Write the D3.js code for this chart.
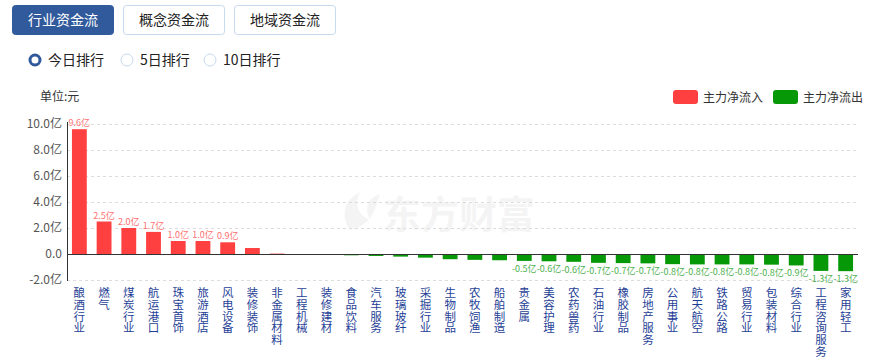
<!DOCTYPE html>
<html>
<head>
<meta charset="utf-8">
<script src="https://cdn.jsdelivr.net/npm/d3@7"></script>
<style>
  html, body { margin: 0; padding: 0; background: #fff; }
  body { font-family: "Microsoft YaHei", "Noto Sans CJK SC", sans-serif; }
</style>
</head>
<body>
<svg id="chart" width="874" height="362"></svg>
<script>
// ── 数据 ──────────────────────────────────────────
const categories = [
  "酿酒行业", "燃气", "煤炭行业", "航运港口", "珠宝首饰", "旅游酒店", "风电设备", "装修装饰",
  "非金属材料", "工程机械", "装修建材", "食品饮料", "汽车服务", "玻璃玻纤", "采掘行业", "生物制品",
  "农牧饲渔", "船舶制造", "贵金属", "美容护理", "农药兽药", "石油行业", "橡胶制品", "房地产服务",
  "公用事业", "航天航空", "铁路公路", "贸易行业", "包装材料", "综合行业", "工程咨询服务", "家用轻工"
];
// 主力净流入（亿元）
const values = [
  9.6, 2.5, 2.0, 1.7, 1.0, 1.0, 0.9, 0.46,
  0.03, -0.03, -0.05, -0.1, -0.15, -0.2, -0.28, -0.4,
  -0.45, -0.48, -0.53, -0.56, -0.6, -0.68, -0.7, -0.72,
  -0.78, -0.8, -0.8, -0.8, -0.82, -0.88, -1.3, -1.32
];
const yTicks = [-2, 0, 2, 4, 6, 8, 10];
const tabs   = ["行业资金流", "概念资金流", "地域资金流"];
const radios = ["今日排行", "5日排行", "10日排行"];
const legendItems = ["主力净流入", "主力净流出"];

const RED   = "#ff4040";
const GREEN = "#069806";

const svg = d3.select("#chart");

// ── 顶部 Tab 按钮 ─────────────────────────────────
const tabX = [12, 123, 234], tabW = 101;
tabs.forEach((t, i) => {
  const active = i === 0;
  svg.append("rect")
    .attr("x", tabX[i] + 0.5).attr("y", 5.5)
    .attr("width", tabW).attr("height", 29).attr("rx", 3)
    .attr("fill", active ? "#305a9b" : "#fff")
    .attr("stroke", active ? "#305a9b" : "#c6d9ee");
  svg.append("text")
    .attr("x", tabX[i] + tabW / 2 + 0.5).attr("y", 25)
    .attr("text-anchor", "middle")
    .attr("font-size", 14)
    .attr("fill", active ? "#fff" : "#222")
    .text(t);
});

// ── 单选 ──────────────────────────────────────────
const radioX = [35, 127, 210];
radios.forEach((r, i) => {
  const on = i === 0;
  svg.append("circle")
    .attr("cx", radioX[i]).attr("cy", 60).attr("r", on ? 5 : 6)
    .attr("fill", "#fff")
    .attr("stroke", on ? "#305a9b" : "#c6d9ee")
    .attr("stroke-width", on ? 3 : 1);
  svg.append("text")
    .attr("x", radioX[i] + 13).attr("y", 65)
    .attr("font-size", 14).attr("fill", "#222")
    .text(r);
});

svg.append("text")
  .attr("x", 40).attr("y", 101)
  .attr("font-size", 12).attr("fill", "#333")
  .text("单位:元");

// ── 图例 ──────────────────────────────────────────
const legX = [673, 773];
legendItems.forEach((l, i) => {
  svg.append("rect")
    .attr("x", legX[i]).attr("y", 90).attr("width", 25).attr("height", 14).attr("rx", 3)
    .attr("fill", i === 0 ? RED : GREEN);
  svg.append("text")
    .attr("x", legX[i] + 30).attr("y", 101.5)
    .attr("font-size", 12).attr("fill", "#333")
    .text(l);
});

// ── 水印 ──────────────────────────────────────────
const wm = svg.append("g").attr("opacity", 0.06);
wm.append("path")
  .attr("d", "M350,230 C340,215 344,200 360,192 C354,205 358,215 370,220 C364,208 368,198 380,194 C374,210 374,224 350,230 Z")
  .attr("fill", "#555");
wm.append("text")
  .attr("x", 383).attr("y", 228)
  .attr("font-size", 38).attr("font-weight", "bold")
  .attr("fill", "#555")
  .text("东方财富");

// ── 坐标 ──────────────────────────────────────────
const left = 67, right = 858;
const x = d3.scaleBand().domain(categories).range([left, right]).paddingInner(0.4).paddingOuter(0.2);
const y = d3.scaleLinear().domain([-2, 10]).range([280, 124]);

// 网格
svg.append("g")
  .selectAll("line")
  .data(yTicks.filter(d => d !== 0))
  .join("line")
  .attr("x1", left).attr("x2", right)
  .attr("y1", d => Math.round(y(d)) + 0.5).attr("y2", d => Math.round(y(d)) + 0.5)
  .attr("stroke", "#dcdcdc")
  .attr("stroke-dasharray", "3,3");

// Y 轴
const yAxis = d3.axisLeft(y).tickValues(yTicks).tickSize(0).tickPadding(5)
  .tickFormat(d => d === 0 ? "0.0" : d.toFixed(1) + "亿");
const yg = svg.append("g").attr("transform", `translate(${left},0)`).call(yAxis);
yg.select(".domain").remove();
yg.selectAll("text").attr("font-size", 12).attr("fill", "#555")
  .attr("font-family", "Microsoft YaHei, Noto Sans CJK SC, sans-serif");
svg.append("line")
  .attr("x1", left + 0.5).attr("x2", left + 0.5)
  .attr("y1", 122).attr("y2", 281)
  .attr("stroke", "#333");

// 柱子
svg.append("g")
  .selectAll("rect")
  .data(values)
  .join("rect")
  .attr("x", (d, i) => x(categories[i]))
  .attr("width", x.bandwidth())
  .attr("y", d => d >= 0 ? y(d) : y(0))
  .attr("height", d => Math.abs(y(d) - y(0)))
  .attr("fill", d => d >= 0 ? RED : GREEN);

// 零线
svg.append("line")
  .attr("x1", left).attr("x2", right)
  .attr("y1", Math.round(y(0)) + 0.5).attr("y2", Math.round(y(0)) + 0.5)
  .attr("stroke", "#333");

// 数值标签
svg.append("g")
  .selectAll("text")
  .data(values.map((v, i) => ({ v, c: categories[i] })).filter(d => Math.abs(d.v) >= 0.5))
  .join("text")
  .attr("x", d => x(d.c) + x.bandwidth() / 2)
  .attr("y", d => d.v >= 0 ? y(d.v) - 3 : y(d.v) + 11)
  .attr("text-anchor", "middle")
  .attr("font-size", 9)
  .attr("fill", d => d.v >= 0 ? "#ff7070" : "#4cb04c")
  .text(d => d.v.toFixed(1) + "亿");

// X 轴竖排标签
const xl = svg.append("g");
categories.forEach(c => {
  const cx = x(c) + x.bandwidth() / 2;
  Array.from(c).forEach((ch, k) => {
    xl.append("text")
      .attr("x", cx).attr("y", 297 + k * 11.8)
      .attr("text-anchor", "middle")
      .attr("font-size", 11.5)
      .attr("fill", "#1f3f96")
      .text(ch);
  });
});
</script>
</body>
</html>
